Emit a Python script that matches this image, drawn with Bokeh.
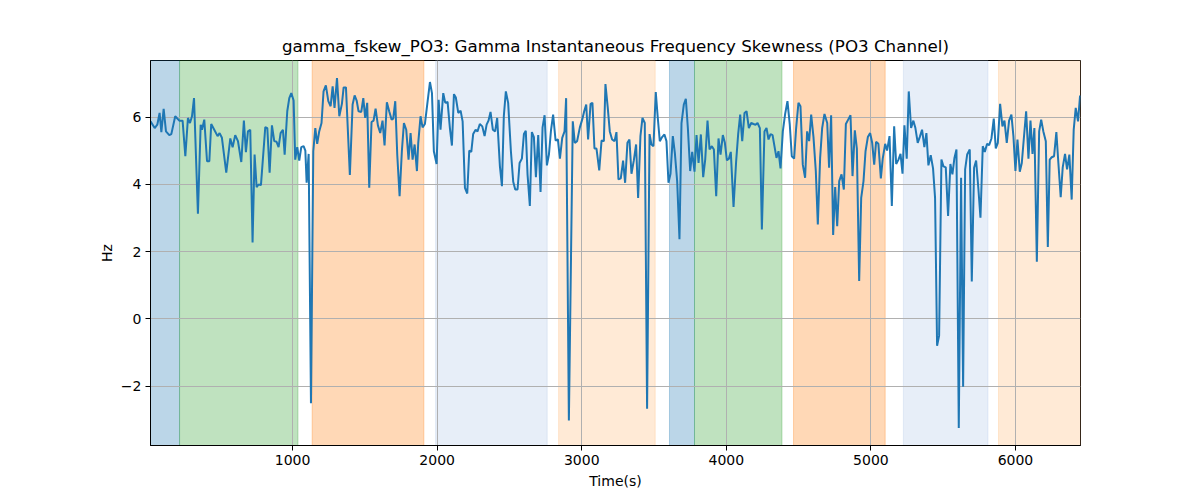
from bokeh.plotting import figure
from bokeh.models import Range1d, CustomJSTickFormatter, BoxAnnotation
from bokeh.embed import file_html
from bokeh.resources import INLINE

title_text = "gamma_fskew_PO3: Gamma Instantaneous Frequency Skewness (PO3 Channel)"
x_label = "Time(s)"
y_label = "Hz"
x_ticks = [1000, 2000, 3000, 4000, 5000, 6000]
y_ticks = [-2, 0, 2, 4, 6]

# shaded epochs (start, end, colour)
span_start = [17, 218, 1135, 1989, 2840, 3607, 3780, 4465, 5225, 5883]
span_end = [218, 1037, 1908, 2761, 3508, 3780, 4385, 5099, 5810, 6450]
span_color = ["#1f77b4", "#2ca02c", "#ff7f0e", "#aec7e8", "#ffbb78",
              "#1f77b4", "#2ca02c", "#ff7f0e", "#aec7e8", "#ffbb78"]

time_s = [
    17, 46, 64, 80, 92, 108, 124, 147, 161, 188, 216, 239, 258, 276, 290, 304, 318, 345, 364, 373,
    389, 408, 424, 437, 458, 481, 495, 511, 541, 569, 585, 603, 622, 645, 663, 677, 691, 707, 723, 737,
    751, 765, 781, 811, 825, 841, 857, 873, 889, 903, 917, 933, 945,
    963, 977, 991, 1007, 1018, 1032, 1046, 1060, 1076, 1088, 1097, 1111, 1127, 1143, 1157, 1170, 1184, 1200,
    1214, 1230, 1247, 1263, 1277, 1290, 1307, 1323, 1341, 1353, 1369, 1396, 1415, 1429, 1443, 1456, 1475, 1489,
    1502, 1516, 1530, 1546, 1560, 1574, 1590, 1606, 1622, 1636, 1652, 1668, 1685, 1696, 1710, 1724, 1740, 1756,
    1770, 1786, 1802, 1816, 1830, 1844, 1860,
    1869, 1885, 1899, 1915, 1934, 1950, 1964, 1977, 1996, 2010, 2023, 2042, 2056, 2072, 2088, 2102, 2116, 2129,
    2146, 2162, 2176, 2192, 2208, 2222, 2236, 2249, 2266, 2279, 2295, 2312, 2328, 2342, 2355, 2369, 2385, 2401,
    2415, 2434, 2448, 2461, 2475, 2491, 2510, 2526, 2540, 2556, 2570, 2586, 2600, 2613, 2625, 2641, 2655, 2669,
    2683, 2699, 2715, 2729, 2743, 2759, 2773,
    2787, 2802, 2819, 2835, 2849, 2865, 2881, 2892, 2911, 2938, 2952, 2968, 2987, 3003, 3017, 3031, 3044, 3061,
    3074, 3088, 3102, 3121, 3137, 3153, 3164, 3180, 3194, 3210, 3227, 3240, 3254, 3270, 3286, 3300, 3316, 3330,
    3344, 3360, 3376, 3390, 3406, 3420, 3436, 3452, 3469, 3482, 3496, 3512, 3526, 3540, 3556, 3572, 3586, 3600,
    3614, 3630, 3644, 3660, 3676, 3690, 3706,
    3720, 3734, 3750, 3764, 3780, 3794, 3808, 3824, 3840, 3854, 3870, 3884, 3900, 3914, 3930, 3946, 3960, 3976,
    3990, 4004, 4018, 4031, 4050, 4068, 4082, 4096, 4110, 4126, 4140, 4156, 4172, 4188, 4202, 4216, 4232, 4246,
    4264, 4278, 4292, 4306, 4320, 4333, 4347, 4361, 4375, 4391, 4407, 4423, 4439, 4453, 4469, 4483, 4499, 4513,
    4529, 4545, 4559, 4573, 4587, 4603, 4619, 4633,
    4649, 4663, 4679, 4698, 4711, 4725, 4739, 4753, 4767, 4781, 4797, 4813, 4827, 4843, 4859, 4873, 4889, 4903,
    4919, 4933, 4949, 4963, 4979, 4995, 5009, 5023, 5036, 5052, 5069, 5082, 5099, 5112, 5129, 5145, 5161, 5175,
    5191, 5205, 5219, 5232, 5248, 5262, 5278, 5294, 5308, 5324, 5338, 5354, 5370, 5384, 5398, 5414, 5430, 5444,
    5458, 5472, 5488, 5502, 5518, 5534, 5550, 5564, 5578,
    5592, 5608, 5624, 5638, 5652, 5666, 5684, 5698, 5714, 5728, 5744, 5758, 5774, 5788, 5804, 5818, 5834, 5850,
    5864, 5878, 5894, 5910, 5924, 5940, 5956, 5972, 5986, 6000, 6014, 6030, 6044, 6058, 6074, 6090, 6104, 6118,
    6131, 6148, 6164, 6178, 6193, 6210, 6224, 6237, 6251, 6267, 6283, 6297, 6313, 6327, 6343, 6357, 6373, 6389,
    6403, 6417, 6433, 6447,
]

skew_hz = [
    5.88, 5.68, 5.78, 6.13, 5.56, 6.25, 5.58, 5.47, 5.5, 6.03, 5.9, 5.9, 4.84, 5.98, 5.83, 6.03, 6.57, 3.13, 5.78, 5.63,
    5.93, 4.69, 4.69, 5.8, 5.63, 5.44, 5.53, 5.39, 4.35, 5.37, 5.11, 5.47, 5.29, 4.67, 5.9, 4.96, 5.58, 5.63, 2.27, 4.89,
    3.92, 4.0, 3.98, 5.71, 5.68, 4.35, 5.76, 5.29, 5.27, 5.11, 5.53, 5.63, 4.89,
    6.18, 6.57, 6.72, 6.5, 4.74, 5.11, 4.71, 5.11, 5.14, 5.01, 4.05, 4.91, -2.51, 4.99, 5.68, 5.21, 5.58, 5.83,
    6.77, 6.95, 6.48, 6.33, 6.92, 6.28, 7.17, 6.03, 6.4, 6.89, 6.89, 4.28, 6.38, 6.65, 6.5, 6.18, 6.16, 6.57,
    5.98, 6.43, 3.9, 5.86, 5.9, 6.26, 5.76, 5.53, 5.9, 5.16, 6.45, 6.18, 5.93, 5.96, 6.48, 4.87, 3.65, 5.01,
    5.83, 5.63, 4.74, 5.53, 4.74, 5.19, 4.4,
    5.24, 6.03, 5.7, 5.8, 6.48, 7.05, 6.72, 4.99, 4.61, 6.52, 5.63, 6.72, 6.43, 6.46, 5.68, 5.16, 6.69, 6.59,
    6.13, 6.2, 5.88, 3.9, 3.73, 5.01, 4.97, 5.5, 5.63, 5.58, 5.8, 5.73, 5.44, 5.78, 5.9, 6.16, 5.63, 5.58,
    5.98, 4.54, 3.95, 6.03, 6.77, 6.43, 4.99, 4.08, 3.85, 3.85, 4.64, 4.77, 5.5, 5.6, 4.3, 3.36, 5.56, 5.41,
    4.22, 5.47, 3.78, 5.7, 6.06, 4.57, 4.89,
    5.6, 6.08, 5.31, 5.34, 4.77, 5.39, 5.58, 6.57, -3.03, 5.88, 5.24, 5.29, 5.7, 5.93, 6.18, 6.38, 5.34, 6.4,
    6.43, 5.07, 5.07, 4.42, 5.31, 5.29, 6.99, 6.28, 5.58, 5.34, 5.29, 5.56, 4.15, 4.18, 4.71, 4.05, 5.24, 5.34,
    4.32, 4.71, 5.19, 3.6, 5.44, 5.98, 5.83, -2.68, 5.5, 5.19, 5.14, 6.75, 5.98, 5.29, 5.41, 5.49, 5.29, 4.05,
    4.32, 5.44, 4.94, 4.1, 2.37, 5.83, 6.38,
    6.55, 5.68, 4.4, 4.97, 4.38, 5.47, 4.64, 5.49, 4.22, 4.74, 5.9, 5.04, 5.14, 5.04, 3.65, 5.37, 4.89, 5.47,
    5.24, 4.72, 4.77, 4.97, 3.33, 4.69, 5.5, 6.08, 5.29, 6.13, 6.18, 5.68, 5.83, 5.8, 5.78, 5.83, 5.68, 2.66,
    5.58, 5.68, 5.34, 5.5, 5.47, 5.14, 4.79, 4.99, 4.48, 5.58, 6.1, 6.48, 5.78, 4.84, 4.77, 5.68, 6.43, 6.33,
    4.59, 4.2, 5.58, 5.29, 6.08, 5.41, 4.4, 2.81,
    4.79, 5.68, 6.1, 5.83, 4.5, 6.06, 2.5, 3.92, 2.76, 4.1, 4.3, 3.85, 5.8, 5.93, 6.06, 4.25, 5.61, 5.07,
    1.13, 3.6, 4.1, 4.99, 5.41, 5.53, 5.24, 4.59, 5.27, 5.21, 4.18, 4.77, 5.21, 5.01, 5.44, 3.36, 5.73, 4.61,
    4.74, 4.91, 4.32, 5.76, 4.77, 6.77, 5.68, 5.9, 5.68, 5.24, 5.41, 5.63, 5.11, 5.53, 4.57, 4.87, 4.48, 3.6,
    -0.8, -0.5, 4.74, 4.54, 4.51, 3.06, 4.61, 4.3, 4.79,
    5.04, -3.25, 4.2, -2.02, 4.45, 4.89, 5.04, 1.11, 4.5, 4.71, 3.85, 3.01, 5.14, 4.97, 5.21, 5.17, 5.37, 5.96,
    5.07, 5.24, 6.4, 5.73, 5.9, 5.24, 5.9, 6.08, 5.44, 4.4, 5.34, 4.38, 4.64, 5.37, 6.18, 4.77, 5.9, 4.91,
    5.68, 1.7, 5.58, 5.93, 5.58, 5.29, 2.14, 4.74, 4.81, 4.84, 5.56, 4.64, 3.62, 4.51, 4.91, 4.45, 4.89, 3.55,
    5.63, 6.28, 5.88, 6.65,
]

FONT = "DejaVu Sans"

ymin, ymax = min(skew_hz), max(skew_hz)
pad = 0.05 * (ymax - ymin)

p = figure(width=1192, height=492, output_backend="svg", toolbar_location=None,
           x_range=Range1d(time_s[0], span_end[-1]),
           y_range=Range1d(ymin - pad, ymax + pad),
           min_border_left=150, min_border_right=112, min_border_top=60, min_border_bottom=47)

p.title.text = title_text
p.title.align = "center"
p.title.text_font = FONT
p.title.text_font_size = "16.7px"
p.title.text_font_style = "normal"
p.title.text_color = "black"

for s, e, c in zip(span_start, span_end, span_color):
    p.add_layout(BoxAnnotation(left=s, right=e, fill_color=c, fill_alpha=0.3,
                               line_color=c, line_alpha=0.3, line_width=1, level="image"))

p.line(time_s, skew_hz, line_color="#1f77b4", line_width=2)

p.xaxis.ticker = x_ticks
p.yaxis.ticker = y_ticks
p.yaxis.formatter = CustomJSTickFormatter(code="return (tick < 0 ? '\u2212' : '') + Math.abs(tick).toString();")
p.xaxis.axis_label = x_label
p.yaxis.axis_label = y_label
for ax in (p.xaxis, p.yaxis):
    ax.axis_label_text_font = FONT
    ax.axis_label_text_font_size = "14px"
    ax.axis_label_text_font_style = "normal"
    ax.axis_label_text_color = "black"
    ax.major_label_text_font = FONT
    ax.major_label_text_font_size = "14px"
    ax.major_label_text_color = "black"
    ax.minor_tick_line_color = None
    ax.major_tick_in = 0
    ax.major_tick_out = 5
    ax.major_tick_line_color = "black"
    ax.axis_line_color = "black"
p.xaxis.major_label_standoff = 4
p.yaxis.major_label_standoff = 4
p.xaxis.axis_label_standoff = 5
p.yaxis.axis_label_standoff = 3

p.xgrid.grid_line_color = "#b0b0b0"
p.ygrid.grid_line_color = "#b0b0b0"
p.xgrid.grid_line_width = 1
p.ygrid.grid_line_width = 1

p.outline_line_color = "black"
p.outline_line_width = 1
p.outline_line_alpha = 1
p.background_fill_color = "white"
p.border_fill_color = "white"

open("out.html", "w").write(file_html(p, INLINE))
